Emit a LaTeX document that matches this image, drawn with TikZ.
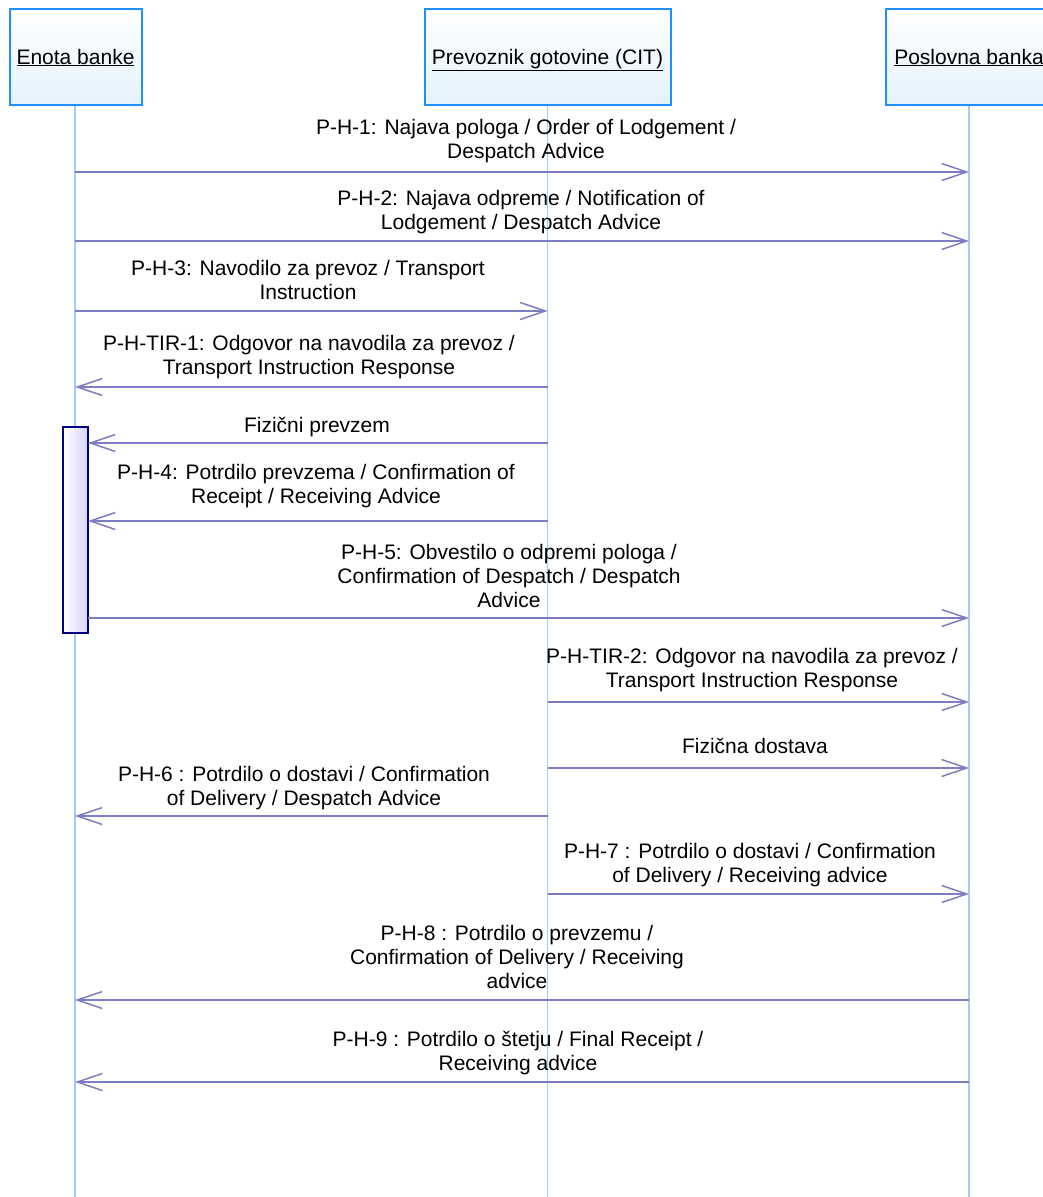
\documentclass[tikz,border=0pt]{standalone}
\usepackage{fontspec}
\setmainfont{Liberation Sans}
\usetikzlibrary{arrows.meta}
\definecolor{msgc}{RGB}{125,125,195}
\definecolor{lifec}{RGB}{160,205,245}
\definecolor{boxb}{RGB}{30,144,255}
\definecolor{boxf}{RGB}{228,242,252}
\definecolor{actb}{RGB}{0,0,128}
\definecolor{actf}{RGB}{212,212,250}
\begin{document}
\begin{tikzpicture}[x=1pt,y=-1pt,
  font=\fontsize{21}{24}\selectfont,
  msg/.style={draw=msgc, line width=1.5pt, -{Straight Barb[length=25pt,width=17pt,line width=1.5pt]}},
  lab/.style={align=center, anchor=base, inner sep=0pt},
  life/.style={draw=lifec, line width=1.2pt},
  head/.style={draw=boxb, line width=2pt, top color=white, bottom color=boxf, minimum height=96pt, inner sep=0pt, text height=16pt, text depth=2pt},
  actbox/.style={draw=actb, line width=1.5pt, left color=white, right color=actf, minimum width=25pt, minimum height=206pt, inner sep=0pt}]
\useasboundingbox (0,0) rectangle (1043,1197);
% lifelines
\coordinate (endA) at (75,1197);
\coordinate (endB) at (547.5,1197);
\coordinate (endC) at (969,1197);
\draw[life] (75,105) -- (endA);
\draw[life] (547.5,105) -- (endB);
\draw[life] (969,105) -- (endC);
% headers
\node[head, minimum width=132pt] (hA) at (75.5,57) {\underline{Enota banke}};
\node[head, minimum width=246pt] (hB) at (547.5,57) {\underline{Prevoznik gotovine (CIT)}};
\node[head, minimum width=166pt] (hC) at (969,57) {\underline{Poslovna banka}};
% activation
\node[actbox] (act) at (75.5,530) {};
% message endpoints
\coordinate (a1) at (75,172);   \coordinate (c1) at (969,172);
\coordinate (a2) at (75,241);   \coordinate (c2) at (969,241);
\coordinate (a3) at (75,311);   \coordinate (b3) at (547.5,311);
\coordinate (a4) at (75,387);   \coordinate (b4) at (547.5,387);
\coordinate (a5) at (88,443);   \coordinate (b5) at (547.5,443);
\coordinate (a6) at (88,521);   \coordinate (b6) at (547.5,521);
\coordinate (a7) at (88,618);   \coordinate (c7) at (969,618);
\coordinate (b8) at (547.5,702); \coordinate (c8) at (969,702);
\coordinate (b9) at (547.5,768); \coordinate (c9) at (969,768);
\coordinate (a10) at (75,816);  \coordinate (b10) at (547.5,816);
\coordinate (b11) at (547.5,894); \coordinate (c11) at (969,894);
\coordinate (a12) at (75,1000); \coordinate (c12) at (969,1000);
\coordinate (a13) at (75,1082); \coordinate (c13) at (969,1082);
% messages (label anchor = baseline of last line)
\draw[msg] (a1) -- (c1);
\node[lab] (l1) at (526,158) {P-H-1: Najava pologa / Order of Lodgement /\\Despatch Advice};
\draw[msg] (a2) -- (c2);
\node[lab] (l2) at (521,229) {P-H-2: Najava odpreme / Notification of\\Lodgement / Despatch Advice};
\draw[msg] (a3) -- (b3);
\node[lab] (l3) at (308,299) {P-H-3: Navodilo za prevoz / Transport\\Instruction};
\draw[msg] (b4) -- (a4);
\node[lab] (l4) at (309,374) {P-H-TIR-1: Odgovor na navodila za prevoz /\\Transport Instruction Response};
\draw[msg] (b5) -- (a5);
\node[lab] (l5) at (317,432) {Fizični prevzem};
\draw[msg] (b6) -- (a6);
\node[lab] (l6) at (316,503) {P-H-4: Potrdilo prevzema / Confirmation of\\Receipt / Receiving Advice};
\draw[msg] (a7) -- (c7);
\node[lab] (l7) at (509,607) {P-H-5: Obvestilo o odpremi pologa /\\Confirmation of Despatch / Despatch\\Advice};
\draw[msg] (b8) -- (c8);
\node[lab] (l8) at (752,687) {P-H-TIR-2: Odgovor na navodila za prevoz /\\Transport Instruction Response};
\draw[msg] (b9) -- (c9);
\node[lab] (l9) at (755,753) {Fizična dostava};
\draw[msg] (b10) -- (a10);
\node[lab] (l10) at (304,805) {P-H-6 : Potrdilo o dostavi / Confirmation\\of Delivery / Despatch Advice};
\draw[msg] (b11) -- (c11);
\node[lab] (l11) at (750,882) {P-H-7 : Potrdilo o dostavi / Confirmation\\of Delivery / Receiving advice};
\draw[msg] (c12) -- (a12);
\node[lab] (l12) at (517,988) {P-H-8 : Potrdilo o prevzemu /\\Confirmation of Delivery / Receiving\\advice};
\draw[msg] (c13) -- (a13);
\node[lab] (l13) at (518,1070) {P-H-9 : Potrdilo o štetju / Final Receipt /\\Receiving advice};
\end{tikzpicture}
\end{document}
